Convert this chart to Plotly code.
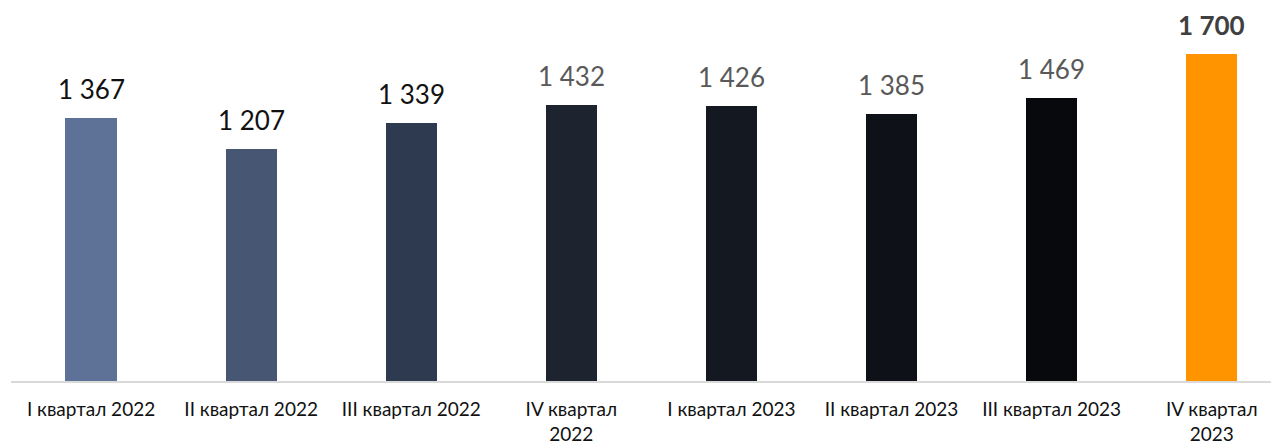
import plotly.graph_objects as go

categories = ["I квартал 2022", "II квартал 2022", "III квартал 2022", "IV квартал<br>2022",
              "I квартал 2023", "II квартал 2023", "III квартал 2023", "IV квартал<br>2023"]
values = [1367, 1207, 1339, 1432, 1426, 1385, 1469, 1700]
label_texts = ["1 367", "1 207", "1 339", "1 432", "1 426", "1 385", "1 469", "<b>1 700</b>"]
bar_colors = ["#5D7296", "#475673", "#2E3A4F", "#1E2330", "#141821", "#0E1117", "#08090D", "#FF9300"]
label_colors = ["#111111", "#111111", "#111111", "#595959", "#595959", "#595959", "#595959", "#404040"]

VAL_FONT = "Lato"
TICK_FONT = "Lato"

fig = go.Figure(go.Bar(
    x=list(range(len(categories))),
    y=values,
    marker=dict(color=bar_colors, line=dict(width=0)),
    width=0.32,
    hoverinfo="skip",
))

for i, (v, t, c) in enumerate(zip(values, label_texts, label_colors)):
    fig.add_annotation(x=i, y=v, text=t, showarrow=False, yanchor="bottom", yshift=11,
                       font=dict(family=VAL_FONT, size=26, color=c))

fig.update_layout(
    width=1271, height=435,
    margin=dict(l=3, r=0, t=36, b=62, autoexpand=False),
    paper_bgcolor="white", plot_bgcolor="white",
    showlegend=False,
    bargap=0,
    xaxis=dict(
        tickmode="array",
        tickvals=list(range(len(categories))),
        ticktext=categories,
        range=[-0.5, 7.42],
        automargin=False,
        showgrid=False,
        zeroline=False,
        showline=True, linecolor="#D9D9D9", linewidth=2,
        ticks="", ticklabelstandoff=10,
        tickfont=dict(family=TICK_FONT, size=19, color="#111111"),
    ),
    yaxis=dict(range=[0, 1750], visible=False, showgrid=False, zeroline=False),
)

fig.write_html("out.html")
